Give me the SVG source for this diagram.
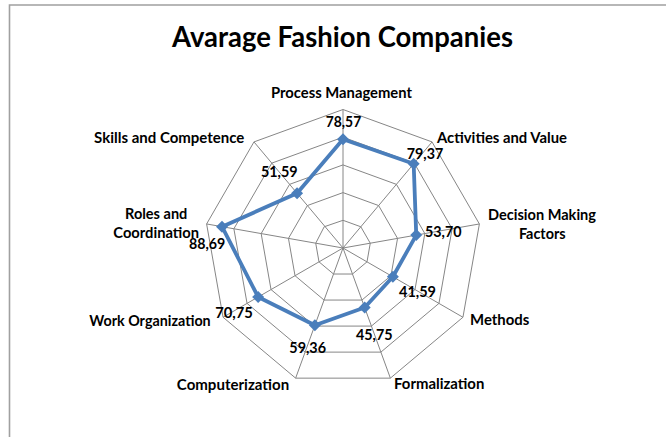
<svg xmlns="http://www.w3.org/2000/svg" width="666" height="437" viewBox="0 0 666 437">
<style>
text{font-family:Lato,"Open Sans","Liberation Sans",sans-serif;font-weight:700;fill:#000;text-anchor:middle}
.ttl{font-size:29px}
.lbl{font-size:14.5px}
.val{font-size:15px}
.ring{fill:none;stroke:#868686;stroke-width:1}
.spoke{stroke:#868686;stroke-width:1}
.series{fill:none;stroke:#4a7ebb;stroke-width:3.8;stroke-linejoin:round}
.frame{stroke:#a0a0a0;stroke-width:1.6;fill:none}
</style>
<defs>
<marker id="dia" markerUnits="userSpaceOnUse" markerWidth="13" markerHeight="13" refX="6.5" refY="6.5" orient="0">
<path d="M6.5 0.5 L12.5 6.5 L6.5 12.5 L0.5 6.5 Z" fill="#4a7ebb"/>
</marker>
</defs>
<rect width="666" height="437" fill="#fff"/>
<g id="frame">
<path class="frame" d="M9.5 437 V5 H666"/>
</g>
<g id="title">
<text class="ttl" x="342.5" y="47" textLength="341" lengthAdjust="spacingAndGlyphs">Avarage Fashion Companies</text>
</g>
<g id="grid">
<polygon class="ring" points="343,220.3 360.81,226.78 370.28,243.19 366.99,261.85 352.47,274.03 333.53,274.03 319.01,261.85 315.72,243.19 324.19,226.78"/>
<polygon class="ring" points="343,192.6 378.61,205.56 397.56,238.38 390.98,275.7 361.95,300.06 324.05,300.06 295.02,275.7 288.44,238.38 307.39,205.56"/>
<polygon class="ring" points="343,164.9 396.42,184.35 424.84,233.57 414.97,289.55 371.42,326.09 314.58,326.09 271.03,289.55 261.16,233.57 289.58,184.35"/>
<polygon class="ring" points="343,137.2 414.22,163.13 452.12,228.76 438.95,303.4 380.89,352.12 305.11,352.12 247.05,303.4 233.88,228.76 271.78,163.13"/>
<polygon class="ring" points="343,109.5 432.03,141.91 479.39,223.96 462.94,317.25 390.37,378.15 295.63,378.15 223.06,317.25 206.61,223.96 253.97,141.91"/>
</g>
<g id="connectors">
<line class="spoke" x1="343" y1="248" x2="343" y2="109.5"/>
<line class="spoke" x1="343" y1="248" x2="432.03" y2="141.91"/>
<line class="spoke" x1="343" y1="248" x2="479.39" y2="223.96"/>
<line class="spoke" x1="343" y1="248" x2="462.94" y2="317.25"/>
<line class="spoke" x1="343" y1="248" x2="390.37" y2="378.15"/>
<line class="spoke" x1="343" y1="248" x2="295.63" y2="378.15"/>
<line class="spoke" x1="343" y1="248" x2="223.06" y2="317.25"/>
<line class="spoke" x1="343" y1="248" x2="206.61" y2="223.96"/>
<line class="spoke" x1="343" y1="248" x2="253.97" y2="141.91"/>
</g>
<g id="series">
<path class="series" marker-start="url(#dia)" marker-mid="url(#dia)" d="M343 139.18 L413.66 163.79 L416.24 235.09 L392.88 276.8 L364.67 307.54 L314.88 325.25 L258.14 296.99 L222.03 226.68 L297.07 193.27 Z"/>
</g>
<g id="process-management">
<text class="lbl" x="341.5" y="98" textLength="141" lengthAdjust="spacingAndGlyphs">Process Management</text>
<text class="val" x="343.5" y="126.7" textLength="35.5" lengthAdjust="spacingAndGlyphs">78,57</text>
</g>
<g id="activities-and-value">
<text class="lbl" x="502" y="143" textLength="130" lengthAdjust="spacingAndGlyphs">Activities and Value</text>
<text class="val" x="425" y="159.3" textLength="36.5" lengthAdjust="spacingAndGlyphs">79,37</text>
</g>
<g id="decision-making-factors">
<text class="lbl" x="542" y="219.5" textLength="108" lengthAdjust="spacingAndGlyphs">Decision  Making</text>
<text class="lbl" x="542.3" y="238.5" textLength="46.7" lengthAdjust="spacingAndGlyphs">Factors</text>
<text class="val" x="443.3" y="237.3" textLength="36.5" lengthAdjust="spacingAndGlyphs">53,70</text>
</g>
<g id="methods">
<text class="lbl" x="499.7" y="325.3" textLength="59.3" lengthAdjust="spacingAndGlyphs">Methods</text>
<text class="val" x="417.5" y="296.7" textLength="37" lengthAdjust="spacingAndGlyphs">41,59</text>
</g>
<g id="formalization">
<text class="lbl" x="439.2" y="389.3" textLength="90.3" lengthAdjust="spacingAndGlyphs">Formalization</text>
<text class="val" x="374.3" y="340" textLength="36.7" lengthAdjust="spacingAndGlyphs">45,75</text>
</g>
<g id="computerization">
<text class="lbl" x="233" y="390" textLength="112.3" lengthAdjust="spacingAndGlyphs">Computerization</text>
<text class="val" x="307.7" y="353.3" textLength="36.7" lengthAdjust="spacingAndGlyphs">59,36</text>
</g>
<g id="work-organization">
<text class="lbl" x="150" y="326" textLength="121.4" lengthAdjust="spacingAndGlyphs">Work Organization</text>
<text class="val" x="234" y="317.7" textLength="37.7" lengthAdjust="spacingAndGlyphs">70,75</text>
</g>
<g id="roles-and-coordination">
<text class="lbl" x="156.2" y="219.3" textLength="62.3" lengthAdjust="spacingAndGlyphs">Roles and</text>
<text class="lbl" x="156.2" y="238.3" textLength="85.7" lengthAdjust="spacingAndGlyphs">Coordination</text>
<text class="val" x="207.2" y="249" textLength="36.3" lengthAdjust="spacingAndGlyphs">88,69</text>
</g>
<g id="skills-and-competence">
<text class="lbl" x="169.2" y="142.7" textLength="150.3" lengthAdjust="spacingAndGlyphs">Skills and Competence</text>
<text class="val" x="279.3" y="177.3" textLength="36.7" lengthAdjust="spacingAndGlyphs">51,59</text>
</g>
</svg>
